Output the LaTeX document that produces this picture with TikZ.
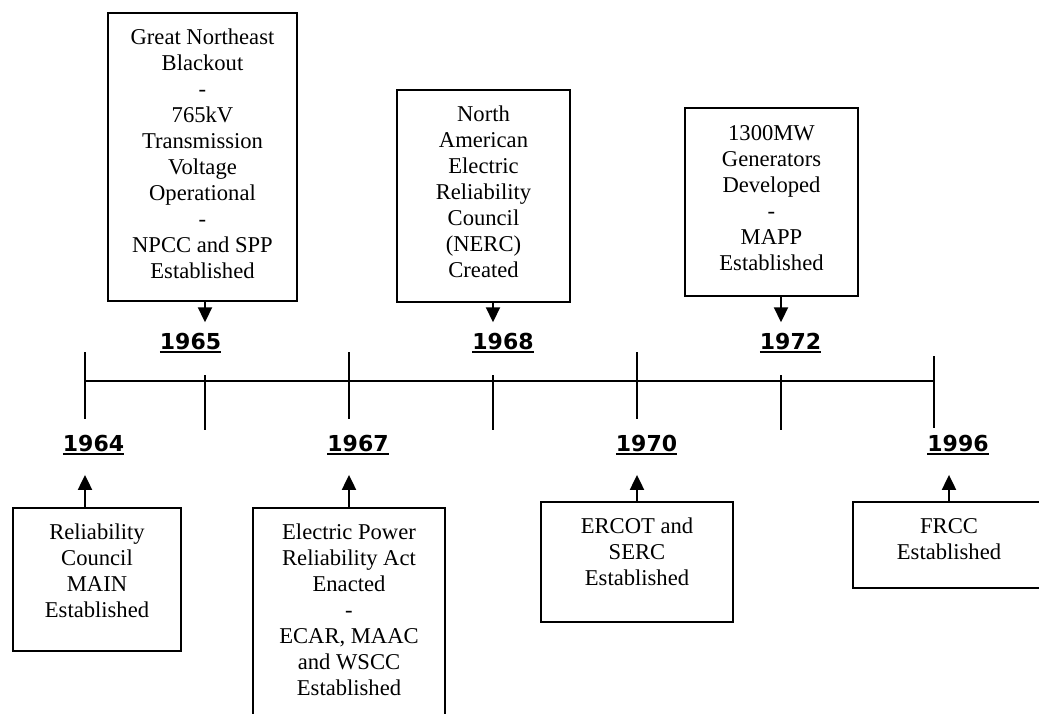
\documentclass[tikz,border=0pt]{standalone}
\usepackage{fontspec}
\setmainfont{Liberation Serif}
\newfontfamily\yearfont{DejaVu Sans}
\usetikzlibrary{arrows.meta}
% one pixel of the timeline sheet
\def\px{0.5pt}
\newcommand{\ulyear}[1]{\setbox0=\hbox{#1}\rlap{\rule[-1.75pt]{\wd0}{1pt}}\box0}
\tikzset{
  eventbox/.style={draw, line width=1pt, inner sep=0pt, outer sep=0pt},
  eventtext/.style={anchor=base, align=flush center, text width=95pt, inner sep=0pt,
    font=\fontsize{11.3}{13}\selectfont},
  yearlabel/.style={anchor=base, inner sep=0pt,
    font=\yearfont\bfseries\fontsize{11}{13}\selectfont},
  pointer/.style={line width=1pt, -{Triangle[length=7.5pt,width=7pt]}},
}
\begin{document}
\begin{tikzpicture}[x=\px, y=-\px]
\useasboundingbox (0,0) rectangle (1039,713);
% Timeline and ticks
\foreach \n/\x in {64/85, 65/205, 67/349, 68/493, 70/637, 72/781, 96/934}
  \coordinate (t\n) at (\x,381);
\draw[line width=0.9pt] (t64) -- (t96);
\begin{scope}[line width=1pt]
  \foreach \x in {85,349,637} \draw (\x,352) -- (\x,419);
  \foreach \x in {205,493,781} \draw (\x,375) -- (\x,430);
  \draw (934,356) -- (934,428);
\end{scope}
% Year labels
\node[yearlabel] (y65) at (190.5,349) {\ulyear{1965}};
\node[yearlabel] (y68) at (503,349) {\ulyear{1968}};
\node[yearlabel] (y72) at (790.5,349) {\ulyear{1972}};
\node[yearlabel] (y64) at (93.5,451) {\ulyear{1964}};
\node[yearlabel] (y67) at (358,451) {\ulyear{1967}};
\node[yearlabel] (y70) at (646.5,451) {\ulyear{1970}};
\node[yearlabel] (y96) at (958,451) {\ulyear{1996}};
% Events above the line
\node[eventbox, minimum width=189*\px, minimum height=288*\px] (b65) at (202.5,157) {};
\node[eventtext] (x65) at ([yshift=-15.5pt]b65.north)
  {Great Northeast\\Blackout\\-\\765kV\\Transmission\\Voltage\\Operational\\-\\NPCC and SPP\\Established};
\node[eventbox, minimum width=173*\px, minimum height=212*\px] (b68) at (483.5,196) {};
\node[eventtext] (x68) at ([yshift=-15.5pt]b68.north)
  {North\\American\\Electric\\Reliability\\Council\\(NERC)\\Created};
\node[eventbox, minimum width=173*\px, minimum height=188*\px] (b72) at (771.5,202) {};
\node[eventtext] (x72) at ([yshift=-16pt]b72.north)
  {1300MW\\Generators\\Developed\\-\\MAPP\\Established};
% Events below the line
\node[eventbox, minimum width=168*\px, minimum height=143*\px] (b64) at (97,579.5) {};
\node[eventtext] (x64) at ([yshift=-15.5pt]b64.north)
  {Reliability\\Council\\MAIN\\Established};
\node[eventbox, minimum width=192*\px, minimum height=232*\px] (b67) at (349,624) {};
\node[eventtext] (x67) at ([yshift=-15.5pt]b67.north)
  {Electric Power\\Reliability Act\\Enacted\\-\\ECAR, MAAC\\and WSCC\\Established};
\node[eventbox, minimum width=192*\px, minimum height=120*\px] (b70) at (637,562) {};
\node[eventtext] (x70) at ([yshift=-15.5pt]b70.north)
  {ERCOT and\\SERC\\Established};
\node[eventbox, minimum width=192*\px, minimum height=86*\px] (b96) at (949,545) {};
\node[eventtext] (x96) at ([yshift=-15.5pt]b96.north)
  {FRCC\\Established};
% Pointers
\draw[pointer, shorten >=5pt] (b65.south -| t65) -- (t65 |- y65.north);
\draw[pointer, shorten >=5pt] (b68.south -| t68) -- (t68 |- y68.north);
\draw[pointer, shorten >=5pt] (b72.south -| t72) -- (t72 |- y72.north);
\draw[pointer, shorten >=10pt] (b64.north -| t64) -- (t64 |- y64.south);
\draw[pointer, shorten >=10pt] (b67.north -| t67) -- (t67 |- y67.south);
\draw[pointer, shorten >=10pt] (b70.north -| t70) -- (t70 |- y70.south);
\draw[pointer, shorten >=10pt] (b96.north) -- (b96.north |- y96.south);
\end{tikzpicture}
\end{document}
